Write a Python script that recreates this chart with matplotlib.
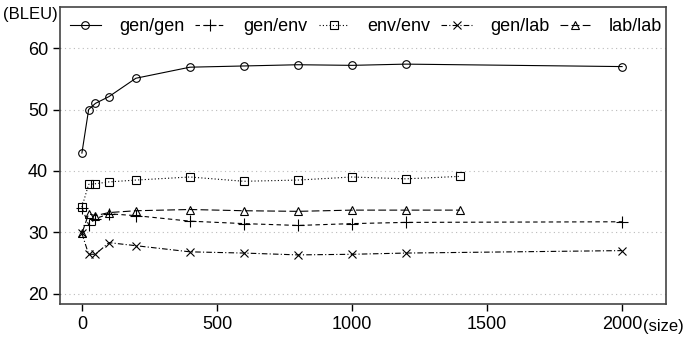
import matplotlib.pyplot as plt
import numpy as np

plt.rcParams['font.family'] = ['Liberation Sans', 'DejaVu Sans']

sizes = [0, 25, 50, 100, 200, 400, 600, 800, 1000, 1200, 2000]
sizes_env = [0, 25, 50, 100, 200, 400, 600, 800, 1000, 1200, 1400]

gen_gen = [42.9, 50.0, 51.0, 52.1, 55.1, 56.9, 57.1, 57.3, 57.2, 57.4, 57.0]
gen_env = [34.0, 31.2, 32.2, 33.0, 32.7, 31.8, 31.4, 31.1, 31.4, 31.6, 31.7]
env_env = [34.1, 37.8, 37.9, 38.2, 38.5, 39.0, 38.3, 38.5, 39.0, 38.7, 39.1]
gen_lab = [29.8, 26.4, 26.4, 28.3, 27.8, 26.8, 26.6, 26.3, 26.4, 26.6, 27.0]
lab_lab = [29.8, 33.0, 32.7, 33.2, 33.5, 33.7, 33.5, 33.4, 33.6, 33.6, 33.6]

fig = plt.figure(figsize=(6.86, 3.37), dpi=100)
ax = fig.add_axes([0.0875, 0.098, 0.8835, 0.881])

mk = dict(markersize=5.5, markerfacecolor='none', markeredgewidth=0.8, color='black', linewidth=0.8)
ax.plot(sizes, gen_gen, marker='o', linestyle='-', label='gen/gen', **mk)
ax.plot(sizes, gen_env, marker='+', linestyle=(0, (4, 3)), label='gen/env', **{**mk, 'markersize': 8})
ax.plot(sizes_env, env_env, marker='s', linestyle=(0, (1, 2)), label='env/env', **mk)
ax.plot(sizes, gen_lab, marker='x', linestyle=(0, (5, 2, 1, 2)), label='gen/lab', **mk)
ax.plot(sizes_env, lab_lab, marker='^', linestyle=(0, (7, 3)), label='lab/lab', **mk)

ax.set_xlim(-81, 2163)
ax.set_ylim(18.3, 66.7)
ax.set_xticks([0, 500, 1000, 1500, 2000])
ax.set_yticks([20, 30, 40, 50, 60])
ax.yaxis.grid(True, linestyle=(0, (1, 3)), color='#bbbbbb', linewidth=0.8)
ax.tick_params(labelsize=13, length=5, width=1, direction='out')
for s in ax.spines.values():
    s.set_linewidth(1.2)
    s.set_color('#444444')

ax.legend(loc='upper center', ncol=5, frameon=False, fontsize=13, handlelength=1.7,
          columnspacing=0.6, handletextpad=1.0, borderaxespad=0.2, bbox_to_anchor=(0.505, 1.0))

fig.text(0.004, 0.978, '(BLEU)', fontsize=12, ha='left', va='top')
fig.text(0.997, 0.03, '(size)', fontsize=12, ha='right', va='center')

fig.savefig('out.png', dpi=100)
